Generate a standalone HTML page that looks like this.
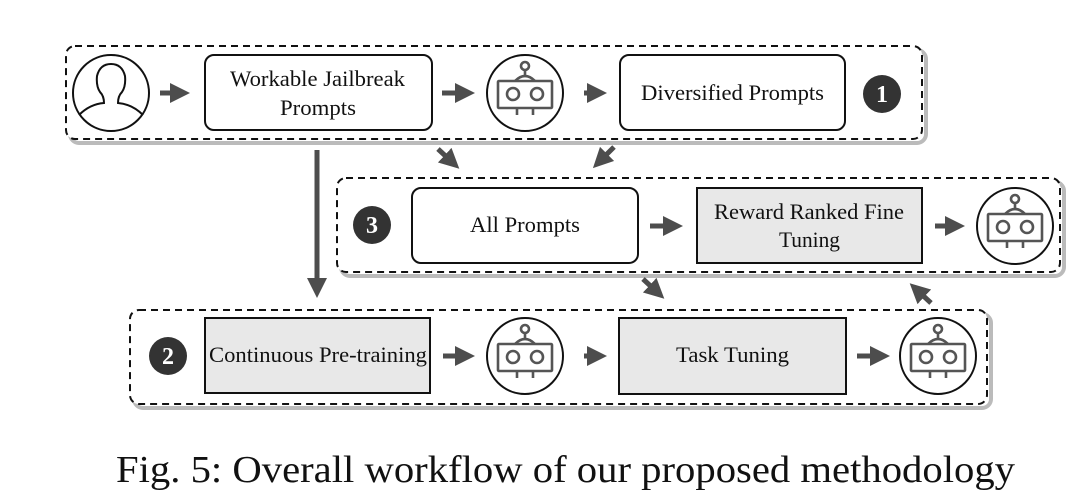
<!DOCTYPE html>
<html><head><meta charset="utf-8"><style>
body{margin:0;background:#fff;}
svg{display:block;font-family:"Liberation Serif",serif;}
</style></head><body>
<svg width="1087" height="502" viewBox="0 0 1087 502" xmlns="http://www.w3.org/2000/svg">
<defs>
<marker id="ah" markerWidth="4" markerHeight="4" refX="2" refY="2" orient="auto" markerUnits="strokeWidth"><path d="M0,0 L4,2 L0,4 z" fill="#4d4d4d"/></marker>
<g id="robot">
 <circle cx="0" cy="0" r="38" fill="#fff" stroke="#111" stroke-width="2"/>
 <g stroke="#555" stroke-width="2.6" fill="none">
  <circle cx="0" cy="-27" r="4"/>
  <line x1="0" y1="-23" x2="0" y2="-18"/>
  <path d="M-10,-12 Q0,-22 10,-12"/>
  <rect x="-27" y="-12" width="54" height="27" rx="1"/>
  <circle cx="-12" cy="1" r="6"/>
  <circle cx="12" cy="1" r="6"/>
  <line x1="-8" y1="15" x2="-8" y2="22"/>
  <line x1="8" y1="15" x2="8" y2="22"/>
 </g>
</g>
</defs>
<g fill="none" stroke="#bbb" stroke-width="4">
 <rect x="70" y="50" width="856" height="93" rx="9"/>
 <rect x="341" y="182" width="723" height="94" rx="9"/>
 <rect x="134" y="314" width="857" height="94" rx="9"/>
</g>
<g fill="#fff" stroke="#111" stroke-width="2" stroke-dasharray="7,5">
 <rect x="66" y="46" width="856" height="93" rx="9"/>
 <rect x="337" y="178" width="723" height="94" rx="9"/>
 <rect x="130" y="310" width="857" height="94" rx="9"/>
</g>
<circle cx="111" cy="93" r="38" fill="#fff" stroke="#111" stroke-width="2"/>
<path d="M79,115 Q90,104 104,103 Q104,96 100,92 Q96,86 97,76 Q100,64 111,64 Q122,64 125,76 Q126,86 122,92 Q118,96 118,103 Q132,104 143,115" fill="none" stroke="#111" stroke-width="2"/>
<g stroke="#111" stroke-width="2">
 <rect x="205" y="55" width="227" height="75" rx="9" fill="#fff"/>
 <rect x="620" y="55" width="225" height="75" rx="9" fill="#fff"/>
 <rect x="412" y="188" width="226" height="75" rx="9" fill="#fff"/>
 <rect x="697" y="188" width="225" height="75" fill="#e8e8e8"/>
 <rect x="205" y="318" width="225" height="75" fill="#e8e8e8"/>
 <rect x="619" y="318" width="227" height="76" fill="#e8e8e8"/>
</g>
<use href="#robot" x="525" y="93"/>
<use href="#robot" x="1015" y="226"/>
<use href="#robot" x="525" y="356"/>
<use href="#robot" x="938" y="356"/>
<g fill="#333">
 <circle cx="882" cy="94" r="19"/>
 <circle cx="372" cy="225" r="19"/>
 <circle cx="168" cy="356" r="19"/>
</g>
<g fill="#fff" font-size="24" font-weight="bold" text-anchor="middle">
 <text x="882" y="102">1</text><text x="372" y="233">3</text><text x="168" y="364">2</text>
</g>
<g stroke="#4d4d4d" stroke-width="5" fill="none" marker-end="url(#ah)">
 <line x1="160" y1="93" x2="180" y2="93"/>
 <line x1="442" y1="93" x2="465" y2="93"/>
 <line x1="584" y1="93" x2="597" y2="93"/>
 <line x1="650" y1="226" x2="673" y2="226"/>
 <line x1="935" y1="226" x2="955" y2="226"/>
 <line x1="443" y1="356" x2="465" y2="356"/>
 <line x1="584" y1="356" x2="597" y2="356"/>
 <line x1="857" y1="356" x2="880" y2="356"/>
 <line x1="317" y1="150" x2="317" y2="288"/>
 <line x1="438" y1="149" x2="452" y2="162"/>
 <line x1="614" y1="147" x2="600" y2="161"/>
 <line x1="643" y1="279" x2="657" y2="292"/>
 <line x1="931" y1="303" x2="917" y2="290"/>
</g>
<g font-size="22" fill="#111">
 <text x="230" y="86" textLength="175" lengthAdjust="spacingAndGlyphs">Workable Jailbreak</text>
 <text x="280" y="115" textLength="76" lengthAdjust="spacingAndGlyphs">Prompts</text>
 <text x="641" y="100" textLength="183" lengthAdjust="spacingAndGlyphs">Diversified Prompts</text>
 <text x="470" y="232" textLength="110" lengthAdjust="spacingAndGlyphs">All Prompts</text>
 <text x="714" y="219" textLength="190" lengthAdjust="spacingAndGlyphs">Reward Ranked Fine</text>
 <text x="779" y="247" textLength="61" lengthAdjust="spacingAndGlyphs">Tuning</text>
 <text x="209" y="362" textLength="218" lengthAdjust="spacingAndGlyphs">Continuous Pre-training</text>
 <text x="676" y="362" textLength="113" lengthAdjust="spacingAndGlyphs">Task Tuning</text>
</g>
<text x="116" y="482" font-size="38" fill="#111" textLength="899" lengthAdjust="spacingAndGlyphs">Fig. 5: Overall workflow of our proposed methodology</text>
</svg>
</body></html>
